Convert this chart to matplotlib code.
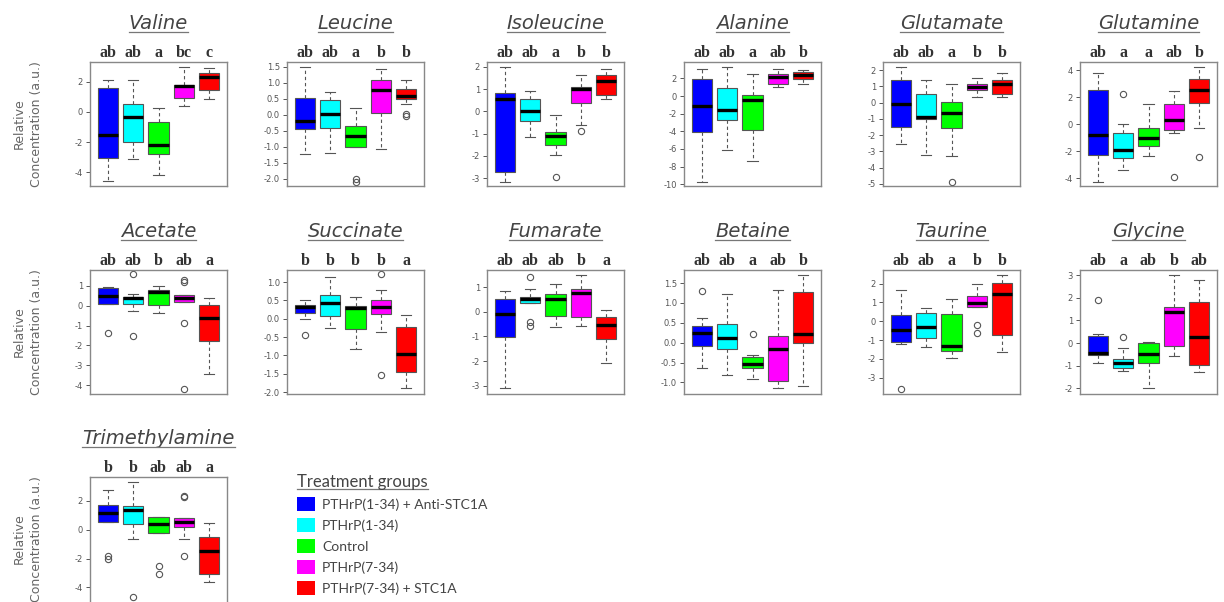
import numpy as np
import matplotlib
matplotlib.use('Agg')
import matplotlib.pyplot as plt
from matplotlib.lines import Line2D
from matplotlib.patches import Patch
from matplotlib.ticker import MultipleLocator, FormatStrFormatter

plt.rcParams['axes.unicode_minus'] = False

groups = ['PTHrP(1-34) + Anti-STC1A', 'PTHrP(1-34)', 'Control', 'PTHrP(7-34)', 'PTHrP(7-34) + STC1A']
colors = ['#0000FF', '#00FFFF', '#00FF00', '#FF00FF', '#FF0000']

metabolites = ['Valine', 'Leucine', 'Isoleucine', 'Alanine', 'Glutamate', 'Glutamine',
               'Acetate', 'Succinate', 'Fumarate', 'Betaine', 'Taurine', 'Glycine',
               'Trimethylamine']

letters = [
    ['ab', 'ab', 'a', 'bc', 'c'],
    ['ab', 'ab', 'a', 'b', 'b'],
    ['ab', 'ab', 'a', 'b', 'b'],
    ['ab', 'ab', 'a', 'ab', 'b'],
    ['ab', 'ab', 'a', 'b', 'b'],
    ['ab', 'a', 'a', 'ab', 'b'],
    ['ab', 'ab', 'b', 'ab', 'a'],
    ['b', 'b', 'b', 'b', 'a'],
    ['ab', 'ab', 'ab', 'b', 'a'],
    ['ab', 'ab', 'a', 'ab', 'b'],
    ['ab', 'ab', 'a', 'b', 'b'],
    ['ab', 'a', 'ab', 'b', 'ab'],
    ['b', 'b', 'ab', 'ab', 'a'],
]

medians = [
    [-1.5, -0.33, -2.22, 1.7, 2.33],
    [-0.2, 0.03, -0.68, 0.76, 0.58],
    [0.57, 0.04, -1.12, 1.02, 1.35],
    [-1.14, -1.63, -0.42, 2.16, 2.35],
    [-0.06, -0.88, -0.64, 0.97, 1.13],
    [-0.77, -1.88, -1.01, 0.3, 2.52],
    [0.5, 0.37, 0.67, 0.37, -0.62],
    [0.32, 0.42, 0.29, 0.33, -0.97],
    [-0.09, 0.51, 0.51, 0.75, -0.54],
    [0.24, 0.12, -0.53, -0.15, 0.23],
    [-0.49, -0.28, -1.32, 0.96, 1.44],
    [-0.44, -0.9, -0.5, 1.36, 0.29],
    [1.15, 1.39, 0.42, 0.51, -1.5],
]

q1 = [
    [-3.07, -2.0, -2.78, 0.93, 1.44],
    [-0.46, -0.42, -1.01, 0.05, 0.5],
    [-2.72, -0.43, -1.53, 0.37, 0.75],
    [-4.09, -2.68, -3.9, 1.4, 1.97],
    [-1.5, -0.99, -1.54, 0.76, 0.56],
    [-2.3, -2.5, -1.63, -0.4, 1.58],
    [0.08, 0.08, 0.05, 0.17, -1.8],
    [0.15, 0.07, -0.27, 0.12, -1.44],
    [-1.03, 0.35, -0.16, -0.23, -1.1],
    [-0.07, -0.15, -0.63, -0.97, 0.0],
    [-1.1, -0.89, -1.6, 0.74, -0.72],
    [-0.51, -1.12, -0.86, -0.15, -0.98],
    [0.51, 0.42, -0.23, 0.18, -3.07],
]

q3 = [
    [1.6, 0.5, -0.7, 1.82, 2.62],
    [0.52, 0.45, -0.36, 1.1, 0.81],
    [0.82, 0.54, -0.93, 1.09, 1.62],
    [1.93, 0.95, 0.08, 2.54, 2.73],
    [1.38, 0.56, 0.04, 1.13, 1.38],
    [2.57, -0.64, -0.25, 1.49, 3.39],
    [0.88, 0.45, 0.78, 0.53, 0.03],
    [0.38, 0.65, 0.36, 0.5, -0.23],
    [0.51, 0.58, 0.71, 0.94, -0.23],
    [0.43, 0.46, -0.36, 0.18, 1.28],
    [0.33, 0.44, 0.39, 1.32, 2.02],
    [0.31, -0.69, 0.0, 1.61, 1.8],
    [1.69, 1.62, 0.85, 0.81, -0.51],
]

whisker_low = [
    [-4.62, -3.1, -4.2, 0.38, 0.89],
    [-1.24, -1.2, -1.0, -1.08, 0.34],
    [-3.17, -1.15, -1.95, -0.63, 0.57],
    [-9.77, -6.17, -7.39, 1.02, 1.4],
    [-2.53, -3.25, -3.3, 0.35, 0.35],
    [-4.28, -3.42, -2.35, -0.62, -0.25],
    [0.08, -0.25, -0.38, 0.17, -3.45],
    [0.0, -0.25, -0.83, -0.36, -1.89],
    [-3.1, 0.35, -0.63, -0.56, -2.06],
    [-0.63, -0.8, -0.92, -1.15, -1.09],
    [-1.19, -1.37, -1.93, 0.74, -1.63],
    [-0.86, -1.23, -2.0, -0.58, -1.27],
    [0.51, -0.65, -0.23, -0.65, -3.65],
]

whisker_high = [
    [2.1, 2.1, 0.27, 3.0, 2.93],
    [1.49, 0.71, 0.21, 1.44, 1.09],
    [1.99, 0.91, -0.18, 1.65, 1.92],
    [3.1, 3.3, 2.46, 3.1, 3.0],
    [2.2, 1.38, 1.17, 1.54, 1.83],
    [3.81, 0.05, 1.53, 2.48, 4.26],
    [0.92, 0.58, 0.97, 0.53, 0.37],
    [0.52, 1.13, 0.6, 0.78, 0.11],
    [0.82, 0.94, 1.11, 1.49, 0.08],
    [0.63, 1.23, -0.32, 1.33, 1.71],
    [1.65, 0.68, 1.18, 2.0, 2.46],
    [0.38, -0.22, 0.07, 3.0, 2.77],
    [2.73, 3.3, 0.85, 0.81, 0.46],
]

outliers = [
    [[], [], [], [], []],
    [[], [], [-2.02, -2.1], [], [0.02, -0.04]],
    [[], [], [-2.95], [-0.9], []],
    [[], [], [], [], []],
    [[], [], [-4.9], [], []],
    [[], [2.23], [], [-3.91], [-2.43]],
    [[-1.37], [1.58, -1.55], [], [1.28, 1.2, -0.87, -4.22], []],
    [[-0.45], [], [], [1.22, -1.53], []],
    [[], [1.42, -0.43, -0.59], [], [], []],
    [[1.31], [], [0.21], [], []],
    [[-3.6], [], [], [-0.18, -0.61], []],
    [[1.91], [0.29], [], [], []],
    [[-1.85, -2.02], [-4.67], [-2.54, -3.05], [2.36, 2.26, -1.85], []],
]

y_limits = [(-4.93, 3.33), (-2.23, 1.65), (-3.35, 2.22), (-10.2, 3.86), (-5.14, 2.51),
            (-4.58, 4.63), (-4.45, 1.8), (-2.05, 1.33), (-3.33, 1.69), (-1.29, 1.83),
            (-3.86, 2.72), (-2.25, 3.23), (-5.15, 3.65)]
tick_steps = [2, 0.5, 1, 2, 1, 2, 1, 0.5, 1, 0.5, 1, 1, 2]

# layout in pixels of the 1224x602 figure
W, H = 1224, 602
col_left = [90, 287, 487, 684, 883, 1080]
row_top = [62, 270, 477]
ax_w, ax_h = 137, 124

gray = '#555555'
fig = plt.figure(figsize=(W / 100, H / 100), dpi=100)

titles = []
for i, name in enumerate(metabolites):
    r, c = divmod(i, 6)
    h = ax_h + 3 if r == 2 else ax_h
    ax = fig.add_axes([col_left[c] / W, 1 - (row_top[r] + h) / H, ax_w / W, h / H])

    stats = [dict(med=medians[i][k], q1=q1[i][k], q3=q3[i][k],
                  whislo=whisker_low[i][k], whishi=whisker_high[i][k],
                  fliers=outliers[i][k]) for k in range(5)]
    bp = ax.bxp(stats, positions=range(1, 6), widths=0.8, capwidths=0.4,
                patch_artist=True,
                boxprops=dict(edgecolor=gray, linewidth=0.8),
                medianprops=dict(color='black', linewidth=2.4, solid_capstyle='butt'),
                whiskerprops=dict(color=gray, linewidth=0.8, linestyle=(0, (3, 2.5))),
                capprops=dict(color=gray, linewidth=0.8),
                flierprops=dict(marker='o', markerfacecolor='none', markeredgecolor=gray,
                                markersize=4.5, markeredgewidth=0.8))
    for patch, col in zip(bp['boxes'], colors):
        patch.set_facecolor(col)

    ax.set_xlim(0.3, 5.7)
    ax.set_ylim(*y_limits[i])
    ax.set_xticks([])
    ax.yaxis.set_major_locator(MultipleLocator(tick_steps[i]))
    ax.yaxis.set_major_formatter(FormatStrFormatter('%.1f' if tick_steps[i] < 1 else '%d'))
    ax.tick_params(axis='y', labelsize=6, colors=gray, length=3, width=0.7, pad=2)
    for sp in ax.spines.values():
        sp.set_color('#888888')
        sp.set_linewidth(1.0)

    for k, lab in enumerate(letters[i]):
        ax.annotate(lab, xy=(k + 1, 1), xycoords=('data', 'axes fraction'),
                    xytext=(0, 0.5), textcoords='offset points', ha='center', va='bottom',
                    fontsize=11.5, fontweight='bold', family='Liberation Serif', color='#333333')

    t = ax.annotate(name, xy=(0.5, 1), xycoords='axes fraction', xytext=(0, 28),
                    textcoords='offset points', ha='center', va='center',
                    fontsize=14, style='italic', color='#444444')
    titles.append(t)

    if c == 0:
        yc = 1 - (row_top[r] + ax_h / 2) / H
        fig.text(28 / W, yc, 'Relative\nConcentration (a.u.)', rotation=90,
                 ha='center', va='center', fontsize=9, color='#666666', linespacing=1.5)

# legend
handles = [Patch(facecolor=col, edgecolor='none') for col in colors]
leg = fig.legend(handles, groups, loc='upper left', bbox_to_anchor=(297 / W, 1 - 474 / H),
                 frameon=False, title='Treatment groups', alignment='left',
                 prop=dict(family='Lato', size=10), title_fontproperties=dict(family='Lato', size=12),
                 handlelength=1.3, handleheight=1.15, handletextpad=0.5, labelspacing=0.52,
                 borderpad=0, borderaxespad=0)
leg.get_title().set_color('#444444')
for txt in leg.get_texts():
    txt.set_color('#444444')

# underline titles
fig.canvas.draw()
renderer = fig.canvas.get_renderer()
inv = fig.transFigure.inverted()
for t in titles + [leg.get_title()]:
    bb = t.get_window_extent(renderer)
    (x0, y0), (x1, _) = inv.transform([(bb.x0, bb.y0 + 1), (bb.x1, bb.y0 + 1)])
    fig.add_artist(Line2D([x0, x1], [y0, y0], transform=fig.transFigure,
                          color='#777777', linewidth=0.9))

fig.savefig('out.png', dpi=100)
